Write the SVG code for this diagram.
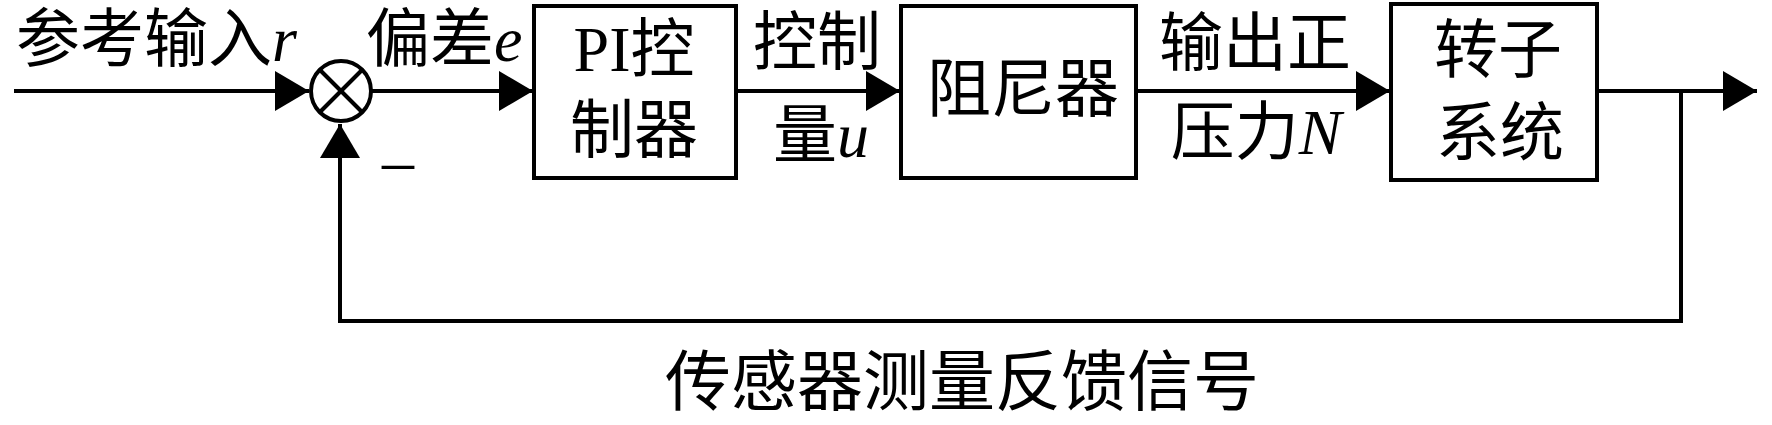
<svg xmlns="http://www.w3.org/2000/svg" width="1772" height="425" viewBox="0 0 1772 425">
<defs>
<style>
.box{fill:#fff;stroke:#000;stroke-width:4}
.wire{fill:none;stroke:#000;stroke-width:4}
.t{font-family:"Liberation Serif","Noto Sans CJK SC",serif;fill:#000;text-anchor:middle}
.l{font-size:64px}
.m{font-size:64px}
.i{font-style:italic}
</style>
<marker id="arr" viewBox="0 0 34 40" refX="34" refY="20" markerWidth="34" markerHeight="40" markerUnits="userSpaceOnUse" orient="auto">
<path d="M0,0 L34,20 L0,40 Z" fill="#000"/>
</marker>
</defs>
<rect width="1772" height="425" fill="#fff"/>
<g id="connectors">
<line class="wire" x1="14" y1="91" x2="309" y2="91" marker-end="url(#arr)"/>
<line class="wire" x1="371" y1="91" x2="533" y2="91" marker-end="url(#arr)"/>
<line class="wire" x1="737" y1="91" x2="900" y2="91" marker-end="url(#arr)"/>
<line class="wire" x1="1136" y1="91" x2="1390" y2="91" marker-end="url(#arr)"/>
<line class="wire" x1="1597" y1="91" x2="1757" y2="91" marker-end="url(#arr)"/>
<path class="wire" d="M1681,91 V321 H340 V124" marker-end="url(#arr)"/>
</g>
<g id="sum">
<circle cx="341" cy="91" r="30" class="box"/>
<line class="wire" x1="320" y1="70" x2="362" y2="112"/>
<line class="wire" x1="362" y1="70" x2="320" y2="112"/>
</g>
<g id="pi">
<rect class="box" x="534" y="6" width="202" height="172"/>
<text class="t m" x="634" y="71">PI控</text>
<text class="t m" x="634" y="152">制器</text>
</g>
<g id="damper">
<rect class="box" x="901" y="6" width="235" height="172"/>
<text class="t m" x="1023" y="111">阻尼器</text>
</g>
<g id="rotor">
<rect class="box" x="1391" y="4" width="206" height="176"/>
<text class="t m" x="1498" y="72">转子</text>
<text class="t m" x="1500" y="155">系统</text>
</g>
<g id="labels">
<text class="t l" x="16" y="61" style="text-anchor:start">参考输入<tspan class="i">r</tspan></text>
<text class="t l" x="366" y="61" style="text-anchor:start">偏差<tspan class="i">e</tspan></text>
<text class="t m" x="817" y="64">控制</text>
<text class="t m" x="821" y="157">量<tspan class="i">u</tspan></text>
<text class="t m" x="1255" y="65">输出正</text>
<text class="t m" x="1256" y="154">压力<tspan class="i">N</tspan></text>
<text class="t" x="398" y="182" style="font-size:64px">–</text>
<text class="t" x="962" y="405" style="font-size:66px">传感器测量反馈信号</text>
</g>
</svg>
